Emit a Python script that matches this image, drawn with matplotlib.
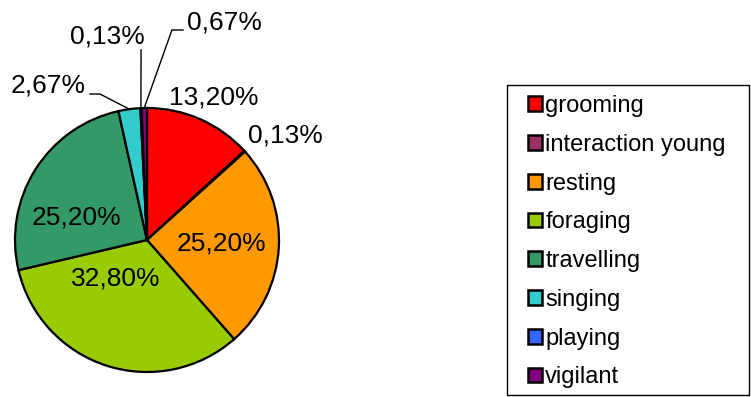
import matplotlib
matplotlib.use("Agg")
import matplotlib.pyplot as plt
import numpy as np

# Activity budget shares (percent)
categories = ["grooming", "interaction young", "resting", "foraging",
              "travelling", "singing", "playing", "vigilant"]
shares = [13.20, 0.13, 25.20, 32.80, 25.20, 2.67, 0.13, 0.67]
colors = ["#FF0000", "#993366", "#FF9900", "#99CC00",
          "#339966", "#33CCCC", "#3366FF", "#800080"]

# Label centres in units of the pie radius
label_pos = [(0.508, 1.083), (1.045, 0.795), (0.561, -0.023), (-0.235, -0.288),
             (-0.538, 0.172), (-0.750, 1.167), (-0.303, 1.538), (0.583, 1.644)]
# Leader lines (label-side points) for the thin slices
leaders = {5: [(-0.432, 1.106), (-0.356, 1.106)],
           6: [(-0.045, 1.44)],
           7: [(0.273, 1.591), (0.189, 1.591)]}

plt.rcParams["font.family"] = ["Liberation Sans", "DejaVu Sans"]

W, H = 751, 397
fig = plt.figure(figsize=(W / 100, H / 100), dpi=100)
cx, cy, R = 147, 240, 132
half = 147
ax = fig.add_axes([(cx - half) / W, (H - cy - half) / H, 2 * half / W, 2 * half / H])

wedges, _ = ax.pie(shares, colors=colors, startangle=90, counterclock=False,
                   radius=1.0, wedgeprops=dict(edgecolor="black", linewidth=1.6))
ax.set_xlim(-half / R, half / R)
ax.set_ylim(-half / R, half / R)
ax.set_aspect("equal")
ax.axis("off")

fmt = lambda v: f"{v:.2f}%".replace(".", ",")
for i, (v, (x, y)) in enumerate(zip(shares, label_pos)):
    ax.text(x, y, fmt(v), ha="center", va="center", fontsize=19, clip_on=False)

for i, pts in leaders.items():
    w = wedges[i]
    mid = np.deg2rad((w.theta1 + w.theta2) / 2)
    edge = (np.cos(mid), np.sin(mid))
    xs = [p[0] for p in pts] + [edge[0]]
    ys = [p[1] for p in pts] + [edge[1]]
    ax.plot(xs, ys, color="black", linewidth=1.0, clip_on=False)

# Legend entries, with a plain rectangular frame drawn around them
handles = [plt.Rectangle((0, 0), 1, 1, facecolor=c, edgecolor="black", linewidth=1.8)
           for c in colors]
leg = fig.legend(handles, categories, loc="upper left",
                 bbox_to_anchor=(528 / W, 1 - 95 / H), borderaxespad=0,
                 fontsize=17, frameon=False,
                 handlelength=0.58, handleheight=0.58, handletextpad=0.15,
                 labelspacing=0.71, borderpad=0)
fig.patches.append(plt.Rectangle((507 / W, 1 - 395 / H), (749 - 507) / W, (395 - 85) / H,
                                 transform=fig.transFigure, fill=False,
                                 edgecolor="black", linewidth=1.0))

fig.savefig("out.png", dpi=100)
